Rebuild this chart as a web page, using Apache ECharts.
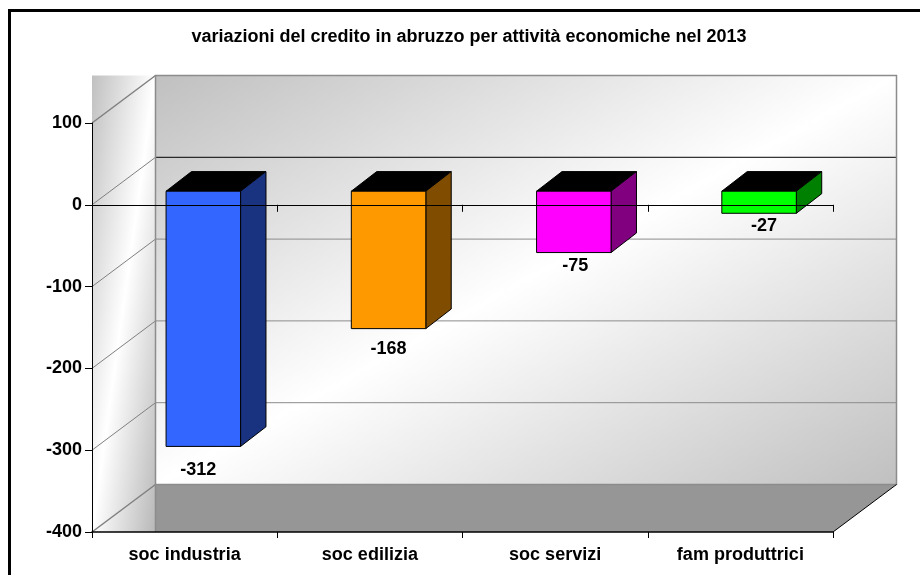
<!DOCTYPE html>
<html>
<head>
<meta charset="utf-8">
<style>html,body{margin:0;padding:0;background:#fff}#c{width:920px;height:575px}</style>
<script src="https://cdn.jsdelivr.net/npm/echarts@6/dist/echarts.min.js"></script>
</head>
<body>
<div id="c"></div>
<script>
var titleText = 'variazioni del credito in abruzzo per attività economiche nel 2013';
var categories = ['soc industria', 'soc edilizia', 'soc servizi', 'fam produttrici'];
var values = [-312, -168, -75, -27];
var yTicks = [100, 0, -100, -200, -300, -400];
var frontColors = ['#3366ff', '#ff9900', '#ff00ff', '#00ff00'];
var sideColors = ['#1a3380', '#804d00', '#800080', '#008000'];
var labelGaps = [24, 20, 13, 13];
var labelShifts = [-5, 0, 1.5, 5];

var FONT = '"Liberation Sans", Arial, sans-serif';
var WALL_DX = 63.5, WALL_DY = -47.5;      // 3D wall depth
var BAR_DX = 18.7, BAR_DY = -13.6;        // bar front-face offset from axis plane
var DEPTH_DX = 25.4, DEPTH_DY = -19.6;    // bar depth
var BAR_W = 74.5;

var chart = echarts.init(document.getElementById('c'), null, {renderer: 'canvas'});

// gradient whose mid (white) band runs along the rectangle's anti-diagonal
function diagGradient(x, y, w, h, edgeA, edgeB) {
  var len = Math.sqrt(w * w + h * h);
  var nx = h / len, ny = w / len;
  var half = (w / 2) * nx + (h / 2) * ny;
  var cx = x + w / 2, cy = y + h / 2;
  return new echarts.graphic.LinearGradient(
    cx - nx * half, cy - ny * half, cx + nx * half, cy + ny * half,
    [{offset: 0, color: edgeA}, {offset: 0.5, color: '#ffffff'}, {offset: 1, color: edgeB}], true);
}

function renderWalls(params, api) {
  var cs = params.coordSys;
  var x0 = cs.x, x1 = cs.x + cs.width;
  var yBottom = cs.y + cs.height, yTop = cs.y;
  var bx0 = x0 + WALL_DX, bx1 = x1 + WALL_DX;
  var byTop = yTop + WALL_DY, byBottom = yBottom + WALL_DY;
  var children = [];
  children.push({type: 'rect', shape: {x: x0, y: byTop, width: WALL_DX, height: yBottom - byTop},
    style: {fill: diagGradient(x0, byTop, WALL_DX, yBottom - byTop, '#c0c0c0', '#b8b8b8')}});
  children.push({type: 'rect', shape: {x: bx0, y: byTop, width: bx1 - bx0, height: byBottom - byTop},
    style: {fill: diagGradient(bx0, byTop, bx1 - bx0, byBottom - byTop, '#c0c0c0', '#c0c0c0')}});
  children.push({type: 'polygon', shape: {points: [[bx0, byBottom], [bx1, byBottom], [x1, yBottom], [bx0, yBottom]]},
    style: {fill: '#969696'}});
  yTicks.forEach(function (t) {
    var yy = api.coord([0, t])[1];
    var isZero = t === 0;
    // diagonal on the side wall
    children.push({type: 'line', shape: {x1: x0, y1: yy, x2: bx0, y2: yy + WALL_DY},
      style: {stroke: '#808080', lineWidth: t === -400 || t === 100 ? 1.5 : 1}});
    // line on the back wall
    if (t !== 100 && t !== -400) {
      children.push({type: 'line', shape: {x1: bx0, y1: yy + WALL_DY, x2: bx1, y2: yy + WALL_DY},
        style: {stroke: isZero ? '#000000' : '#8c8c8c', lineWidth: 1}});
    }
  });
  // back wall frame
  children.push({type: 'polyline', shape: {points: [[bx0, yBottom], [bx0, byTop], [bx1, byTop], [bx1, byBottom], [bx0, byBottom]]},
    style: {stroke: '#8c8c8c', lineWidth: 1.5, fill: null}});
  // floor's right edge
  children.push({type: 'line', shape: {x1: x1, y1: yBottom, x2: bx1, y2: byBottom},
    style: {stroke: '#000000', lineWidth: 1}});
  return {type: 'group', children: children};
}

function renderBar(params, api) {
  var i = api.value(0), v = api.value(1);
  var c0 = api.coord([i, 0]);
  var c1 = api.coord([i, v]);
  var xl = c0[0] + BAR_DX - BAR_W / 2, xr = xl + BAR_W;
  var yt = c0[1] + BAR_DY, yb = c1[1] + BAR_DY;
  var line = {stroke: '#000000', lineWidth: 1, lineJoin: 'round'};
  return {type: 'group', children: [
    {type: 'polygon', shape: {points: [[xl, yt], [xr, yt], [xr + DEPTH_DX, yt + DEPTH_DY], [xl + DEPTH_DX, yt + DEPTH_DY]]},
      style: Object.assign({fill: '#000000'}, line)},
    {type: 'polygon', shape: {points: [[xr, yt], [xr + DEPTH_DX, yt + DEPTH_DY], [xr + DEPTH_DX, yb + DEPTH_DY], [xr, yb]]},
      style: Object.assign({fill: sideColors[i]}, line)},
    {type: 'rect', shape: {x: xl, y: yt, width: BAR_W, height: yb - yt},
      style: Object.assign({fill: frontColors[i]}, line)},
    {type: 'text', style: {x: (xl + xr) / 2 + labelShifts[i], y: yb + labelGaps[i], text: String(v),
      font: 'bold 18px ' + FONT, fill: '#000000', textAlign: 'center', textVerticalAlign: 'middle'}}
  ]};
}

var option = {
  animation: false,
  backgroundColor: '#ffffff',
  title: {text: titleText, left: 464, top: 23, textAlign: 'center',
    textStyle: {fontFamily: FONT, fontWeight: 'bold', fontSize: 18, color: '#000000'}},
  grid: {left: 92, right: 87, top: 123, bottom: 43, containLabel: false},
  xAxis: [
    {type: 'category', data: categories, position: 'bottom', z: 5,
      axisLine: {onZero: false, lineStyle: {color: '#000000', width: 1.5}},
      axisTick: {show: true, length: 6, alignWithLabel: false, lineStyle: {color: '#000000'}},
      axisLabel: {margin: 14, fontFamily: FONT, fontWeight: 'bold', fontSize: 18, color: '#000000', interval: 0},
      splitLine: {show: false}},
    {type: 'category', data: categories, position: 'bottom', z: 5,
      axisLine: {onZero: true, lineStyle: {color: '#000000', width: 1}},
      axisTick: {show: true, length: 7, lineStyle: {color: '#000000'}},
      axisLabel: {show: false}, splitLine: {show: false}}
  ],
  yAxis: {type: 'value', min: -400, max: 100, interval: 100, z: 5,
    axisLine: {show: true, onZero: false, lineStyle: {color: '#000000', width: 1}},
    axisTick: {show: true, length: 7, lineStyle: {color: '#000000'}},
    axisLabel: {margin: 10, fontFamily: FONT, fontWeight: 'bold', fontSize: 18, color: '#000000'},
    splitLine: {show: false}},
  series: [
    {type: 'custom', name: 'walls', coordinateSystem: 'cartesian2d', xAxisIndex: 0, z: 1, silent: true,
      data: [[0, 0]], renderItem: renderWalls, encode: {x: 0, y: 1}},
    {type: 'custom', name: 'variazioni', coordinateSystem: 'cartesian2d', xAxisIndex: 0, z: 2, silent: true,
      data: values.map(function (v, i) { return [i, v]; }), renderItem: renderBar, encode: {x: 0, y: 1}}
  ],
  graphic: [{type: 'polyline', z: 10, silent: true,
    shape: {points: [[9.5, 575], [9.5, 10.5], [920, 10.5]]},
    style: {stroke: '#000000', lineWidth: 3, fill: null}}]
};
chart.setOption(option);
</script>
</body>
</html>
